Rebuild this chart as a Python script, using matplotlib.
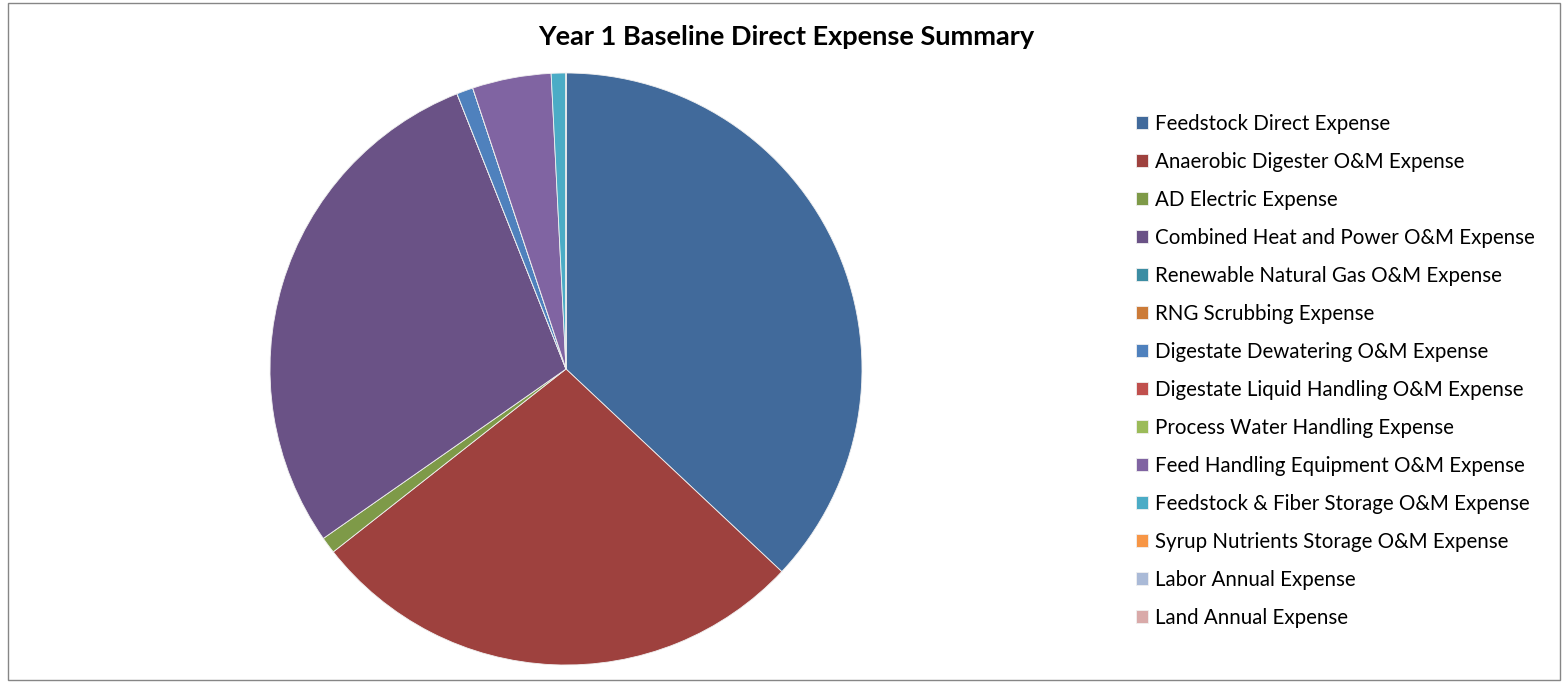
import matplotlib
matplotlib.use("Agg")
import matplotlib.pyplot as plt
from matplotlib.patches import Rectangle

plt.rcParams['font.family'] = ['Lato', 'DejaVu Sans']

title = "Year 1 Baseline Direct Expense Summary"
categories = [
    "Feedstock Direct Expense",
    "Anaerobic Digester O&M Expense",
    "AD Electric Expense",
    "Combined Heat and Power O&M Expense",
    "Renewable Natural Gas O&M Expense",
    "RNG Scrubbing Expense",
    "Digestate Dewatering O&M Expense",
    "Digestate Liquid Handling O&M Expense",
    "Process Water Handling Expense",
    "Feed Handling Equipment O&M Expense",
    "Feedstock & Fiber Storage O&M Expense",
    "Syrup Nutrients Storage O&M Expense",
    "Labor Annual Expense",
    "Land Annual Expense",
]
values = [37.0, 27.4, 0.9, 28.7, 0.0, 0.0, 0.9, 0.0, 0.0, 4.3, 0.8, 0.0, 0.0, 0.0]
colors = ["#416A9B", "#9E413E", "#7E9A48", "#6A5286", "#3C8DA3", "#CC7B38",
          "#4F81BD", "#C0504D", "#9BBB59", "#8064A2", "#4BACC6", "#F79646",
          "#AABAD7", "#D9AAA9"]

W, H = 1562, 683
fig = plt.figure(figsize=(W / 100, H / 100), dpi=100)
fig.patch.set_facecolor("white")

# chart border
fig.add_artist(Rectangle((8 / W, 3 / H), (1560 - 8) / W, (680 - 3) / H,
                         transform=fig.transFigure, fill=False,
                         edgecolor="#868686", linewidth=1.0))

cx, cy, r = 566, 369, 296
ax = fig.add_axes([(cx - r) / W, (H - cy - r) / H, 2 * r / W, 2 * r / H])
wedges, _ = ax.pie(values, colors=colors, startangle=90, counterclock=False,
                   radius=1.0,
                   wedgeprops=dict(edgecolor="#F0F0F0", linewidth=0.6))
ax.set_xlim(-1, 1)
ax.set_ylim(-1, 1)
ax.set_aspect("equal")
ax.axis("off")

fig.text(786 / W, 1 - 37 / H, title, ha="center", va="center",
         fontsize=19.5, fontweight="bold", color="black")

leg = fig.legend(wedges, categories, loc="upper left",
                 bbox_to_anchor=(1136 / W, 1 - 114 / H),
                 frameon=False, fontsize=14.8, handlelength=0.58,
                 handleheight=0.58, handletextpad=0.33, labelspacing=0.875,
                 borderaxespad=0, borderpad=0)

fig.savefig("out.png", dpi=100, facecolor="white")
